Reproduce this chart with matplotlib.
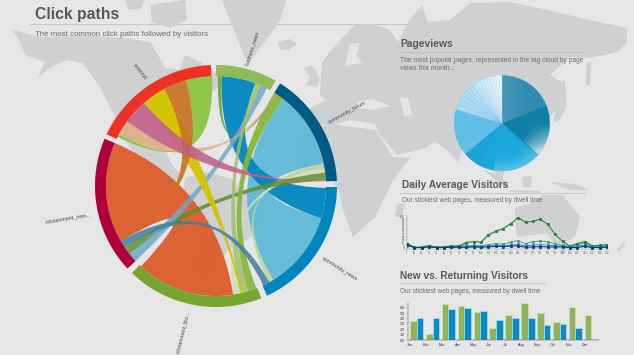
import numpy as np
import matplotlib
matplotlib.use("Agg")
import matplotlib.pyplot as plt
from matplotlib.path import Path
from matplotlib.patches import PathPatch, Polygon, Circle

plt.rcParams['font.family'] = ['Liberation Sans', 'DejaVu Sans']

BG = '#e6e6e6'
LAND = '#cfd0d2'
TXT = '#58595b'
TXT2 = '#6b6c6e'

# ---------- background map (outline decoration, in picture pixels) ----------
north_america = [(13,30),(40,37),(90,36),(125,38),(150,42),(158,55),(165,68),(180,70),(185,55),(200,62),(215,72),
                 (222,82),(205,100),(196,120),(186,145),(165,150),(172,165),(185,178),(170,182),(145,165),(128,145),
                 (115,117),(100,87),(83,63),(67,60),(50,68),(38,77),(45,62),(25,55),(20,42)]
south_america = [(185,178),(205,172),(230,178),(250,195),(262,215),(255,235),(228,250),(218,265),(208,283),(196,282),
                 (192,262),(198,240),(183,200)]
greenland = [(222,0),(232,25),(240,45),(248,65),(258,50),(270,35),(280,20),(286,0)]
iceland = [(278,42),(290,39),(297,44),(288,50),(280,49)]
britain = [(304,68),(312,66),(320,78),(318,87),(306,85),(310,76)]
arctic1 = [(125,0),(145,0),(140,10),(128,9)]
arctic2 = [(150,5),(185,0),(187,20),(170,28),(152,22)]
eurasia = [(320,95),(322,62),(330,52),(345,35),(355,25),(372,24),(390,30),(398,42),(408,22),(422,5),(428,22),(450,20),
           (470,3),(510,2),(547,10),(590,20),(627,28),(627,43),(617,52),(590,58),(570,57),(550,75),(563,83),(565,100),
           (547,120),(550,130),(545,138),(537,155),(525,165),(510,170),(505,165),(503,178),(497,178),(490,152),(478,150),
           (470,140),(462,150),(458,162),(447,150),(435,142),(425,148),(397,155),(380,135),(375,124),(350,120),(335,125),
           (312,125),(310,108),(325,100)]
africa = [(298,135),(330,124),(376,130),(393,157),(410,158),(393,180),(375,217),(353,237),(343,210),(340,193),(328,175),
          (305,170),(293,155)]
madagascar = [(397,204),(405,203),(402,217),(395,217)]
baltic = [(350,44),(360,43),(356,55),(362,63),(345,66)]
black_sea = [(357,102),(372,99),(390,106),(372,110),(358,108)]
caspian = [(400,97),(408,98),(412,115),(404,116)]
kamchatka = [(587,62),(591,62),(590,85),(586,85)]
japan = [(560,85),(565,80),(567,105),(560,120),(553,122),(556,110)]
sumatra = [(483,170),(500,175),(510,188),(503,186)]
borneo = [(522,177),(532,176),(531,187),(523,187)]
java = [(510,190),(540,191),(540,193),(510,192)]
new_guinea = [(550,182),(575,184),(590,190),(570,190)]
australia = [(515,208),(530,203),(543,195),(563,195),(580,217),(575,237),(557,247),(547,233),(517,237),(515,223)]
tasmania = [(560,250),(566,250),(564,254),(560,254)]
new_zealand = [(617,250),(625,240),(624,245),(619,252)]
land_shapes = [north_america, south_america, greenland, iceland, britain, arctic1, arctic2, eurasia, africa,
               madagascar, kamchatka, japan, sumatra, borneo, java, new_guinea, australia, tasmania, new_zealand]
sea_shapes = [baltic, black_sea, caspian]

# ---------- chord diagram data (angles in degrees, clockwise from top) ----------
group_names = ['external', 'business_news', 'community_forum', 'community_news', 'infotainment_blo...', 'infotainment_new...']
group_start = [295.3, 0.0, 32.0, 90.5, 158.0, 227.0]
group_end = [357.6, 29.5, 87.6, 155.0, 224.0, 293.0]
group_colors = ['#ee3124', '#8fbb5a', '#005a84', '#0085bd', '#78a530', '#b0003a']

ribbon_a0 = [240, 38, 3, 78, 80.5, 83, 24, 21, 32, 1, 298, 296.5, 319, 332, 306, 151]
ribbon_a1 = [293, 78, 21, 80.5, 83, 87, 27.5, 24, 38, 3, 306, 298, 332, 344, 319, 154.6]
ribbon_b0 = [171, 107, 91, 148.6, 167, 232, 227, 163, 158.5, 33, 33, 344, 166, 240, 87, 236]
ribbon_b1 = [223, 148.6, 107, 151, 171, 236, 232, 167, 163, 34, 34, 358, 167, 241, 87.5, 240]
ribbon_colors = ['#dc5a26', '#5cb8d8', '#0086c2', '#bcd4a0', '#cfe0bb', '#5f8f28', '#6fa9c8', '#9fc070', '#86b53a',
                 '#6f9f30', '#e5a878', '#8cc63f', '#d4c400', '#c9701c', '#c25c8a', '#3f7f9f']
ribbon_alpha = [0.93, 0.93, 0.95, 0.85, 0.85, 0.85, 0.85, 0.85, 0.92, 0.9, 0.75, 0.95, 0.97, 0.88, 0.85, 0.85]

# ---------- pie ----------
pie_values = [67, 64, 33, 21, 21, 22, 21, 23, 12, 7, 6, 6, 6, 5, 5, 5, 5, 4, 4, 4, 4, 4, 4, 3.5]
pie_colors = ['#2f8bb0', '#0f7fa9', '#19a8dd', '#19a8dd', '#19a8dd', '#1ba3d8', '#5fbfe9', '#5fbfe9', '#62bfe9',
              '#a9daf3', '#a9daf3', '#a9daf3', '#abdbf3', '#b2def4', '#b5dff5', '#c0e4f6', '#c9e8f8', '#cfeaf8', '#d5edf9',
              '#daeffa', '#def1fa', '#e2f2fb', '#e6f4fb', '#e8f5fb']
pie_edges = ['#2f8bb0', '#2a88ad', '#1490c4', '#1490c4', '#1490c4', '#1490c4', '#4aaedb', '#4aaedb', '#4aaedb',
             '#78c0e8', '#78c0e8', '#78c0e8', '#78c0e8', '#7cc2e8', '#80c4e8', '#86c8ea', '#8ccbec', '#90ceec', '#96d1ee',
             '#9cd4ee', '#a2d7f0', '#a8daf0', '#aedcf2', '#b4dff2']

# ---------- daily average visitors ----------
day_labels = ['1'] + [str(v) for v in range(10, 280, 10)]
green_line = [15,4,4,9,4,5,8,8,19,22,20,44,55,64,79,99,84,87,94,77,45,23,7,16,22,8,10,12]
teal_line = [10,4,4,8,4,5,6,8,9,10,9,12,16,14,20,25,15,22,24,22,15,10,6,13,16,6,7,9]
blue_line = [9,3,3,7,3,4,5,5,6,7,6,9,11,9,11,13,8,11,12,11,9,7,4,8,10,4,5,7]
navy_line = [13,3,3,5,3,3,4,4,4,5,4,5,7,6,8,8,4,5,6,5,5,5,3,3,7,3,3,4]
y_line_labels = ['0', '8', '16', '24', '32', '40', '48', '56', '64', '72', '80', '88', '96', '104']

# ---------- new vs returning ----------
months = ['Jan', 'Feb', 'Mar', 'Apr', 'May', 'Jun', 'Jul', 'Aug', 'Sep', 'Oct', 'Nov', 'Dec']
new_visitors = [3.5, 1.1, 6.7, 6.3, 5.3, 2.25, 4.7, 6.9, 5.1, 3.3, 6.2, 4.6]
returning_visitors = [4.1, 4.1, 5.8, 6.0, 5.4, 3.8, 4.1, 4.05, 2.75, 3.0, 2.2, 0.2]
bar_ticks = [0, 1, 2, 3, 4, 5, 6]
bar_tick_labels = ['0.0', '1.0', '2.0', '3.0', '4.0', '5.0', '6.0']

W, H = 634, 355
fig = plt.figure(figsize=(W/100, H/100), dpi=100, facecolor=BG)
ax = fig.add_axes([0, 0, 1, 1], zorder=0)
ax.set_xlim(0, W)
ax.set_ylim(H, 0)
ax.axis('off')

def frac(x0, y0, x1, y1):
    return [x0/W, 1-y1/H, (x1-x0)/W, (y1-y0)/H]

for s in land_shapes:
    ax.add_patch(Polygon(s, closed=True, fc=LAND, ec='none', zorder=1))
for s in sea_shapes:
    ax.add_patch(Polygon(s, closed=True, fc=BG, ec='none', zorder=1.1))

# chord
CX, CY, R_OUT, R_IN = 216, 186, 121, 110

def pt(a, r):
    t = np.radians(a)
    return (CX + r*np.sin(t), CY - r*np.cos(t))

def arc(a0, a1, r):
    return [pt(a, r) for a in np.linspace(a0, a1, 40)]

def ribbon(a0, a1, b0, b1, color, alpha, z):
    verts, codes = [], []
    first = arc(a0, a1, R_IN)
    verts += first
    codes += [Path.MOVETO] + [Path.LINETO]*(len(first)-1)
    second = arc(b0, b1, R_IN)
    verts += [(CX, CY), second[0]]
    codes += [Path.CURVE3, Path.CURVE3]
    verts += second[1:]
    codes += [Path.LINETO]*(len(second)-1)
    verts += [(CX, CY), first[0]]
    codes += [Path.CURVE3, Path.CURVE3]
    ax.add_patch(PathPatch(Path(verts, codes), fc=color, ec='none', alpha=alpha, zorder=z))

for i in range(len(ribbon_a0)):
    ribbon(ribbon_a0[i], ribbon_a1[i], ribbon_b0[i], ribbon_b1[i], ribbon_colors[i], ribbon_alpha[i], 2+i*0.01)

for s, e, c in zip(group_start, group_end, group_colors):
    pts = arc(s, e, R_OUT) + arc(e, s, R_IN)
    ax.add_patch(Polygon(pts, closed=True, fc=c, ec='none', zorder=3))

label_xy = [(140, 72), (252, 48), (347, 112), (340, 269), (183, 332), (68, 218)]
label_rot = [-53, 72, 29, -32, 76, 9.5]
for n, (x, y), r in zip(group_names, label_xy, label_rot):
    ax.text(x, y, n, fontsize=3.8, color='#4a4a4a', rotation=r, ha='center', va='center', rotation_mode='anchor', zorder=4)

# titles
ax.text(35, 14, 'Click paths', fontsize=11.3, fontweight='bold', color=TXT, va='center', zorder=4)
ax.plot([30, 605], [24, 24], color='#c2c2c2', lw=0.6, zorder=0.9)
ax.text(35, 34, 'The most common click paths followed by visitors', fontsize=5.65, color=TXT2, va='center', zorder=4)

ax.text(400, 44, 'Pageviews', fontsize=7.4, fontweight='bold', color=TXT, va='center', zorder=4)
ax.plot([400, 585], [52, 52], color='#bcbcbc', lw=0.6, zorder=4)
ax.text(400, 60, 'The most popular pages, represented in the tag cloud by page', fontsize=4.75, color=TXT2, va='center', zorder=4)
ax.text(400, 68, 'views this month...', fontsize=4.75, color=TXT2, va='center', zorder=4)

ax.text(402, 185, 'Daily Average Visitors', fontsize=7.3, fontweight='bold', color=TXT, va='center', zorder=4)
ax.plot([400, 585], [193, 193], color='#c2c2c2', lw=0.6, zorder=4)
ax.text(402, 200.5, 'Our stickiest web pages, measured by dwell time', fontsize=4.7, color=TXT2, va='center', zorder=4)

ax.text(400, 276, 'New vs. Returning Visitors', fontsize=7.3, fontweight='bold', color=TXT, va='center', zorder=4)
ax.plot([400, 545], [283, 283], color='#c2c2c2', lw=0.6, zorder=4)
ax.text(400, 291.5, 'Our stickiest web pages, measured by dwell time', fontsize=4.7, color=TXT2, va='center', zorder=4)

# pie
pax = fig.add_axes(frac(453, 74.5, 551, 172), zorder=2)
wedges, _ = pax.pie(pie_values, colors=pie_colors, startangle=90, counterclock=False, radius=1,
                    wedgeprops=dict(linewidth=0.2))
for w, e in zip(wedges, pie_edges):
    w.set_edgecolor(e)
n = 200
yy, xx = np.mgrid[1.02:-1.02:n*1j, -1.02:1.02:n*1j]
ang = np.degrees(np.arctan2(xx, yy)) % 360
rad = np.hypot(xx, yy)
overlay = np.zeros((n, n, 4))
overlay[..., :3] = 1.0
rim = np.clip((rad-0.55)/0.45, 0, 1)
dark = np.where((ang > 80) & (ang < 131), rim*np.clip((ang-90)/40, 0, 1)*0.8, 0)
light = np.where((ang >= 131) & (ang < 190), rim**2*0.3, 0)
top = np.where(ang < 67, np.clip(0.5-1.0*xx, 0, 1)*0.25, 0)
overlay[..., 3] = dark + light + top
im = pax.imshow(overlay, extent=(-1.02, 1.02, -1.02, 1.02), zorder=5, aspect='equal')
im.set_clip_path(Circle((0, 0), 1, transform=pax.transData))
pax.set_xlim(-1.02, 1.02)
pax.set_ylim(-1.02, 1.02)

# line chart
lax = fig.add_axes(frac(407, 216, 607, 248.5), zorder=2)
lax.patch.set_alpha(0)
xs = np.arange(len(green_line))
lax.plot(xs, green_line, color='#c9e6a8', lw=1.8, zorder=1)
lax.plot(xs, teal_line, color='#cfe8d8', lw=1.2, zorder=1)
lax.plot(xs, green_line, color='#1f7a5c', lw=0.75, marker='s', ms=1.1, zorder=4)
lax.plot(xs, teal_line, color='#3a9c96', lw=0.6, marker='s', ms=1.0, zorder=3)
lax.plot(xs, blue_line, color='#1f7fb0', lw=0.6, marker='s', ms=1.0, zorder=3)
lax.plot(xs, navy_line, color='#123a7a', lw=0.8, marker='s', ms=1.1, zorder=4)
lax.set_xlim(0, len(green_line)-1)
lax.set_ylim(0, 103)
for s in ['top', 'right']:
    lax.spines[s].set_visible(False)
for s in ['left', 'bottom']:
    lax.spines[s].set_linewidth(0.25)
    lax.spines[s].set_color('#888888')
lax.set_xticks(xs)
lax.set_xticklabels(day_labels)
lax.set_yticks(np.arange(len(y_line_labels))*8)
lax.set_yticklabels(y_line_labels)
lax.tick_params(axis='both', length=0.8, width=0.3, labelsize=1.9, pad=0.8, colors='#666666')

# bars
bax = fig.add_axes(frac(408, 303, 599, 340), zorder=2)
bax.patch.set_alpha(0)
bx = np.arange(len(months))
bw = 0.42
bax.bar(bx+bw/2, new_visitors, bw, color='#8fb35a', edgecolor='#d3e2b0', linewidth=0.5)
bax.bar(bx+bw*1.5, returning_visitors, bw, color='#0a8bc6', edgecolor='#a8dff0', linewidth=0.5)
bax.set_xlim(-0.125, 11.9)
bax.set_ylim(0, 6.9)
for s in ['top', 'right']:
    bax.spines[s].set_visible(False)
for s in ['left', 'bottom']:
    bax.spines[s].set_linewidth(0.35)
    bax.spines[s].set_color('#666666')
bax.set_xticks(bx)
bax.set_xticklabels(months)
bax.set_yticks(bar_ticks)
bax.set_yticklabels(bar_tick_labels)
bax.tick_params(axis='both', length=1, width=0.3, labelsize=2.7, pad=1, colors='#333333')

fig.savefig('out.png', dpi=100, facecolor=BG)
